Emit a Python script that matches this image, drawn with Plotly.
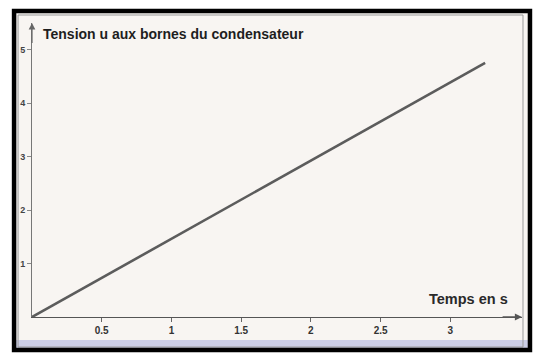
import plotly.graph_objects as go

# Data
temps = [0, 0.5, 1, 1.5, 2, 2.5, 3, 3.25]
tension = [0, 0.73, 1.46, 2.19, 2.92, 3.65, 4.38, 4.75]
x_ticks = [0.5, 1, 1.5, 2, 2.5, 3]
x_ticktext = ["0.5", "1", "1.5", "2", "2.5", "3"]
y_ticks = [1, 2, 3, 4, 5]
y_ticktext = ["1", "2", "3", "4", "5"]
y_title = "Tension u aux bornes du condensateur"
x_title = "Temps en s"

# page body has an 8px default margin; figure is sized to fit the window
OFF = 8
W_PX, H_PX = 541 - OFF, 360 - OFF
L, T = 30 - OFF, 23 - OFF
PW, PH = 492, 294
R = W_PX - L - PW
B = H_PX - T - PH
XMAX = PW / 140.0
YMAX = PH / 53.5


def px(x):
    return (x - OFF - L) / PW


def py(y):
    return (T + PH - (y - OFF)) / PH


fig = go.Figure()
fig.add_trace(go.Scatter(
    x=temps, y=tension, mode="lines",
    line=dict(color="#5c5c5c", width=2.6),
    hoverinfo="skip", showlegend=False, cliponaxis=False,
))

font = "Liberation Sans, Arial, sans-serif"

shapes = [
    dict(type="rect", xref="paper", yref="paper",
         x0=px(12), x1=px(530), y0=py(350), y1=py(11),
         fillcolor="#f8f5f2", line=dict(width=0), layer="below"),
    dict(type="rect", xref="paper", yref="paper",
         x0=px(14), x1=px(528), y0=py(348), y1=py(340),
         fillcolor="rgba(150,160,215,0.45)", line=dict(width=0), layer="below"),
    dict(type="rect", xref="paper", yref="paper",
         x0=px(16), x1=px(523), y0=py(347), y1=py(15),
         line=dict(color="#9a9a9a", width=1), layer="below"),
    dict(type="rect", xref="paper", yref="paper",
         x0=px(12), x1=px(530), y0=py(350), y1=py(11),
         line=dict(color="#000000", width=4.5), layer="above"),
]

annotations = [
    dict(x=XMAX, y=0, ax=XMAX - 0.15, ay=0, xref="x", yref="y", axref="x", ayref="y",
         text="", showarrow=True, arrowhead=2, arrowsize=1.1, arrowwidth=1.3,
         arrowcolor="#555555"),
    dict(x=0, y=YMAX, ax=0, ay=YMAX - 0.4, xref="x", yref="y", axref="x", ayref="y",
         text="", showarrow=True, arrowhead=2, arrowsize=1.1, arrowwidth=1.2,
         arrowcolor="#666666"),
    dict(x=px(39), y=py(34), xref="paper", yref="paper", xanchor="left", yanchor="middle",
         text=y_title, showarrow=False,
         font=dict(family=font, size=14, color="#1e1e1e", weight="bold")),
    dict(x=px(468), y=py(299), xref="paper", yref="paper", xanchor="center", yanchor="middle",
         text=x_title, showarrow=False,
         font=dict(family=font, size=14.5, color="#2a2a2a", weight="bold")),
]

fig.update_layout(
    width=W_PX, height=H_PX,
    margin=dict(l=L, r=R, t=T, b=B),
    paper_bgcolor="#ffffff",
    plot_bgcolor="rgba(0,0,0,0)",
    shapes=shapes,
    annotations=annotations,
    showlegend=False,
    xaxis=dict(
        range=[0, XMAX], showgrid=False, zeroline=False,
        showline=True, linecolor="#555555", linewidth=1.4,
        tickvals=x_ticks, ticktext=x_ticktext,
        ticks="outside", ticklen=4, tickcolor="#666666",
        tickfont=dict(family=font, size=10, color="#333333", weight="bold"),
    ),
    yaxis=dict(
        range=[0, YMAX], showgrid=False, zeroline=False,
        showline=True, linecolor="#777777", linewidth=1,
        tickvals=y_ticks, ticktext=y_ticktext,
        ticks="outside", ticklen=4, tickcolor="#888888",
        tickfont=dict(family=font, size=9, color="#444444", weight="bold"),
    ),
)

fig.write_html("out.html")
